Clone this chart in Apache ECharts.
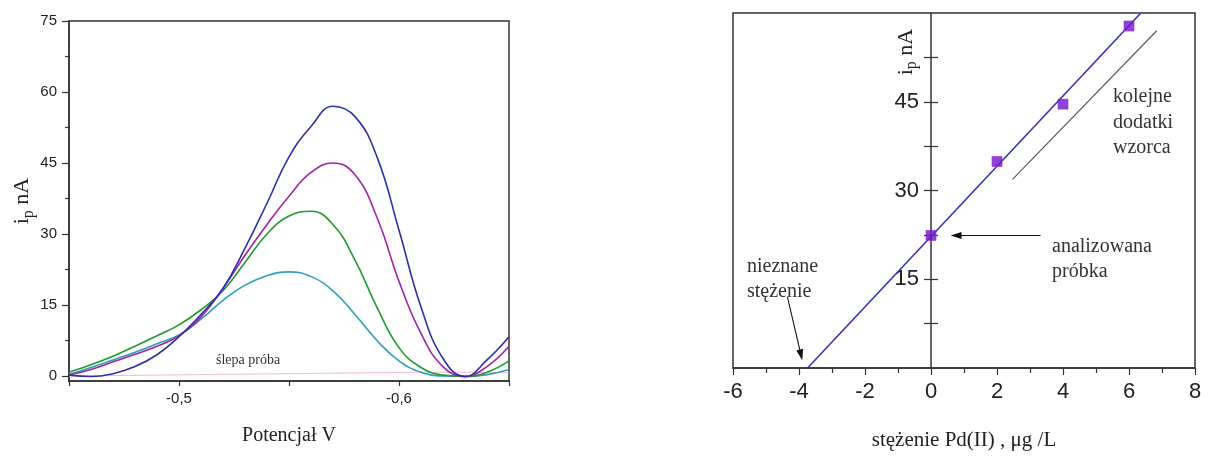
<!DOCTYPE html>
<html>
<head>
<meta charset="utf-8">
<script src="https://cdn.jsdelivr.net/npm/echarts@6/dist/echarts.min.js"></script>
<style>
html,body{margin:0;padding:0;background:#fff;}
#chart{width:1218px;height:456px;}
</style>
</head>
<body>
<div id="chart"></div>
<script>
// ---------- Left chart: voltammograms ----------
const potential = [-0.45,-0.46,-0.47,-0.48,-0.49,-0.50,-0.51,-0.52,-0.53,-0.54,-0.55,-0.56,-0.57,-0.58,-0.59,-0.60,-0.61,-0.62,-0.63,-0.64,-0.65];
const curveTeal    = [0.3,1.8,3.4,5.0,6.8,8.7,12.0,16.0,19.2,21.2,22.0,21.0,18.0,13.0,7.5,3.2,0.8,0.0,-0.1,0.3,1.4];
const curveGreen   = [0.8,2.4,4.2,6.3,8.5,10.8,14.0,18.0,24.0,30.0,33.8,34.8,32.0,24.5,14.5,6.0,1.8,0.2,-0.1,0.8,3.2];
const curveMagenta = [0.2,1.4,3.0,4.6,6.3,8.5,12.5,18.5,25.5,32.0,38.0,43.0,45.0,42.5,33.5,20.0,9.0,2.0,-0.1,2.0,6.3];
const curveBlue    = [0.2,-0.1,0.5,2.0,4.5,8.3,13.0,18.5,27.0,36.5,46.3,52.7,57.0,54.8,46.3,30.8,14.6,3.7,-0.1,3.4,8.3];
const curveBlank   = [0.0,0.05,0.1,0.15,0.2,0.25,0.3,0.35,0.4,0.45,0.5,0.55,0.6,0.65,0.7,0.75,0.8,0.8,0.8,0.75,0.7];
const leftYTicks = [0,15,30,45,60,75];
const leftYMinor = [7.5,22.5,37.5,52.5,67.5];

// ---------- Right chart: standard addition ----------
const addedConc   = [0,2,4,6];
const peakCurrent = [22.4,34.9,44.6,57.8];
const fitX = [-3.74,6.36];
const fitY = [0,60];
const guideX = [2.47,6.84];
const guideY = [31.9,57.0];
const rightYLabels = [15,30,45];
const rightYTicks = [7.5,15,22.5,30,37.5,45,52.5];
const arrowSample  = [[3.32,22.4],[0.76,22.4]];
const arrowUnknown = [[-4.35,12.0],[-3.94,2.2]];

const serif = 'Liberation Serif';
const sans = 'Liberation Sans';
const zip = (xs, ys) => xs.map((x,i)=>[x, ys[i]]);

const chart = echarts.init(document.getElementById('chart'));

function curve(name, arr, color, width){
  return {
    type:'line', name, xAxisIndex:0, yAxisIndex:0,
    data: zip(potential, arr), smooth:0.45, showSymbol:false, symbol:'none',
    lineStyle:{color, width: width||1.6}, z: 3, silent:true
  };
}

const option = {
  animation:false,
  backgroundColor:'#fff',
  grid:[
    {left:69, top:21, width:440, height:360, show:true, borderColor:'#333', borderWidth:1.5},
    {left:733, top:13, width:462, height:367, show:true, borderColor:'#333', borderWidth:1.5}
  ],
  xAxis:[
    {
      gridIndex:0, type:'value', inverse:true, min:-0.65, max:-0.45, interval:0.05,
      axisLine:{onZero:false, lineStyle:{color:'#333', width:1.5}},
      axisTick:{length:5, lineStyle:{color:'#333', width:1.2}},
      splitLine:{show:false},
      axisLabel:{
        margin:10, fontFamily:sans, fontSize:15, color:'#222',
        formatter: v => Math.abs(v+0.5)<1e-6 ? '-0,5' : (Math.abs(v+0.6)<1e-6 ? '-0,6' : '')
      },
      name:'Potencjał V', nameLocation:'middle', nameGap:45,
      nameTextStyle:{fontFamily:serif, fontSize:20, color:'#222'}
    },
    {
      gridIndex:1, type:'value', min:-6, max:8, interval:2,
      axisLine:{onZero:false, lineStyle:{color:'#333', width:1.5}},
      axisTick:{length:7, lineStyle:{color:'#333', width:1.2}},
      minorTick:{show:true, splitNumber:2, length:5, lineStyle:{color:'#333', width:1.2}},
      splitLine:{show:false},
      axisLabel:{margin:13, fontFamily:sans, fontSize:22, color:'#222'},
      name:'stężenie Pd(II) , μg /L', nameLocation:'middle', nameGap:62,
      nameTextStyle:{fontFamily:serif, fontSize:21, color:'#222'}
    }
  ],
  yAxis:[
    {
      gridIndex:0, type:'value', min:-1.05, max:75, position:'left',
      axisLine:{onZero:false, lineStyle:{color:'#333', width:1.5}},
      axisTick:{length:7, customValues:leftYTicks, lineStyle:{color:'#333', width:1.2}},
      axisLabel:{margin:12, fontFamily:sans, fontSize:15, color:'#222', customValues:leftYTicks},
      splitLine:{show:false},
      name:'{a|i}{s|p}{a| nA}', nameLocation:'middle', nameGap:30, nameRotate:90,
      nameTextStyle:{color:'#222', rich:{
        a:{fontFamily:serif, fontSize:22, color:'#222'},
        s:{fontFamily:serif, fontSize:16, color:'#222', padding:[12,0,0,0]}
      }}
    },
    {
      gridIndex:0, type:'value', min:-1.05, max:75, position:'left', offset:0,
      axisLine:{show:false, onZero:false},
      axisTick:{length:4, customValues:leftYMinor, lineStyle:{color:'#333', width:1.2}},
      axisLabel:{show:false}, splitLine:{show:false}
    },
    {
      gridIndex:1, type:'value', min:0, max:60, position:'left', offset:0,
      axisLine:{onZero:false, lineStyle:{color:'#333', width:1.5}},
      axisTick:{length:7, customValues:rightYTicks, lineStyle:{color:'#333', width:1.2}},
      axisLabel:{margin:12, fontFamily:sans, fontSize:22, color:'#222', customValues:rightYLabels},
      splitLine:{show:false}
    },
    {
      gridIndex:1, type:'value', min:0, max:60, position:'left', offset:0,
      axisLine:{onZero:false, show:false},
      axisTick:{inside:true, length:7, customValues:rightYTicks, lineStyle:{color:'#333', width:1.2}},
      axisLabel:{show:false}, splitLine:{show:false}
    }
  ],
  series:[
    curve('blank', curveBlank, '#f2b8d2', 1),
    curve('teal', curveTeal, '#2e9fb2'),
    curve('green', curveGreen, '#239a2e'),
    curve('magenta', curveMagenta, '#a024a8'),
    curve('blue', curveBlue, '#2f30a8'),
    {
      type:'line', xAxisIndex:1, yAxisIndex:2, data: zip(fitX, fitY),
      showSymbol:false, symbol:'none', lineStyle:{color:'#3333b5', width:1.6}, silent:true, z:3
    },
    {
      type:'line', xAxisIndex:1, yAxisIndex:2, data: zip(guideX, guideY),
      showSymbol:false, symbol:'none', lineStyle:{color:'#555', width:1.1}, silent:true, z:3
    },
    {
      type:'scatter', xAxisIndex:1, yAxisIndex:2, data: zip(addedConc, peakCurrent),
      symbol:'rect', symbolSize:10, itemStyle:{color:'#7016c8', borderColor:'#9a2ad8', borderWidth:0.8}, z:5,
      markLine:{
        silent:true, animation:false,
        symbol:['none','triangle'], symbolSize:[7,11],
        label:{show:false},
        lineStyle:{color:'#111', width:1.1, type:'solid'},
        data:[
          [{coord:arrowSample[0]},{coord:arrowSample[1]}],
          [{coord:arrowUnknown[0]},{coord:arrowUnknown[1]}]
        ]
      }
    }
  ],
  graphic:[
    {type:'text', left:216, top:353, style:{text:'ślepa próba', font:'14px "Liberation Serif"', fill:'#333'}},
    {type:'text', left:1052, top:234, style:{text:'analizowana\npróbka', font:'20px "Liberation Serif"', fill:'#333', lineHeight:25}},
    {type:'text', left:747, top:254, style:{text:'nieznane\nstężenie', font:'20px "Liberation Serif"', fill:'#333', lineHeight:25}},
    {type:'text', left:1113, top:84, style:{text:'kolejne\ndodatki\nwzorca', font:'20px "Liberation Serif"', fill:'#333', lineHeight:25.5}},
    {type:'text', x:906, y:52, rotation:Math.PI/2,
     style:{text:'{a|i}{s|p}{a| nA}', align:'center', verticalAlign:'middle',
       rich:{a:{fontFamily:serif, fontSize:22, fill:'#222'}, s:{fontFamily:serif, fontSize:16, fill:'#222', padding:[12,0,0,0]}}}}
  ]
};
chart.setOption(option);

// Place the right chart's vertical axis at x = 0 of its x scale.
const px0 = chart.convertToPixel({xAxisIndex:1}, 0);
const pxMin = chart.convertToPixel({xAxisIndex:1}, -6);
const shift = -(px0 - pxMin);
chart.setOption({yAxis:[{}, {}, {offset:shift}, {offset:shift}]});
</script>
</body>
</html>
